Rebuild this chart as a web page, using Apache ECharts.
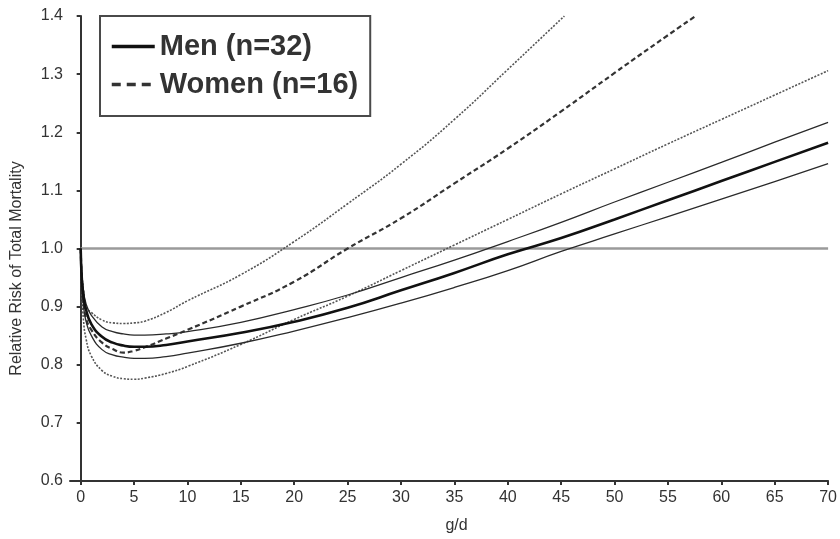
<!DOCTYPE html>
<html>
<head>
<meta charset="utf-8">
<script src="https://cdn.jsdelivr.net/npm/echarts@6/dist/echarts.min.js"></script>
<style>
html,body{margin:0;padding:0;background:#fff;}
#chart{width:840px;height:539px;}
</style>
</head>
<body>
<div id="chart"></div>
<script>
// ---- data ----
const xTicks = [0, 5, 10, 15, 20, 25, 30, 35, 40, 45, 50, 55, 60, 65, 70];

const menX     = [0, 0.1, 0.25, 0.5, 1, 2, 3, 4, 5, 6, 8, 10, 15, 20, 25, 30, 35, 40, 45, 50, 55, 60, 65, 70];
const menRR    = [1.0, 0.95, 0.92, 0.895, 0.87, 0.848, 0.838, 0.833, 0.831, 0.831, 0.834, 0.84, 0.855, 0.874, 0.898, 0.928, 0.958, 0.99, 1.018, 1.05, 1.083, 1.116, 1.149, 1.182];
const menUpper = [1.0, 0.96, 0.93, 0.905, 0.885, 0.865, 0.857, 0.853, 0.851, 0.851, 0.853, 0.857, 0.873, 0.895, 0.92, 0.95, 0.98, 1.012, 1.045, 1.08, 1.114, 1.148, 1.183, 1.217];
const menLower = [1.0, 0.94, 0.905, 0.875, 0.85, 0.826, 0.817, 0.813, 0.811, 0.811, 0.814, 0.82, 0.837, 0.858, 0.881, 0.906, 0.933, 0.962, 0.995, 1.025, 1.055, 1.085, 1.115, 1.146];

const womenX   = [0, 0.1, 0.25, 0.5, 1, 2, 3, 4, 5, 6, 8, 10, 15, 20, 25, 30, 35, 40, 45, 50, 55, 57.6];
const womenRR  = [1.0, 0.95, 0.91, 0.88, 0.86, 0.838, 0.827, 0.821, 0.824, 0.83, 0.845, 0.86, 0.9, 0.943, 1.0, 1.052, 1.112, 1.172, 1.236, 1.302, 1.367, 1.4];

const womenUpperX = [0, 0.1, 0.25, 0.5, 1, 2, 3, 4, 5, 6, 8, 10, 15, 20, 25, 30, 35, 40, 45.3];
const womenUpper  = [1.0, 0.96, 0.93, 0.9, 0.89, 0.877, 0.872, 0.871, 0.872, 0.875, 0.89, 0.91, 0.955, 1.012, 1.077, 1.145, 1.222, 1.308, 1.4];

const womenLowerX = [0, 0.1, 0.25, 0.5, 1, 2, 3, 4, 5, 6, 8, 10, 15, 20, 25, 30, 35, 40, 45, 50, 55, 60, 65, 70];
const womenLower  = [1.0, 0.93, 0.88, 0.845, 0.815, 0.79, 0.78, 0.776, 0.775, 0.777, 0.785, 0.797, 0.835, 0.878, 0.918, 0.962, 1.006, 1.05, 1.094, 1.137, 1.18, 1.222, 1.264, 1.306];

const refX = [0, 70];
const refY = [1.0, 1.0];

const menName = 'Men (n=32)';
const womenName = 'Women (n=16)';

function pairs(xs, ys) { return xs.map((x, i) => [x, ys[i]]); }

const FONT = '"Liberation Sans", Arial, sans-serif';

const chart = echarts.init(document.getElementById('chart'), null, {renderer: 'canvas'});
const lineBase = {type: 'line', showSymbol: false, symbol: 'none', smooth: 0.5, silent: true};

chart.setOption({
  animation: false,
  backgroundColor: '#fff',
  grid: {left: 70, right: 11, top: 16, bottom: 58, containLabel: false},
  legend: {
    show: true,
    left: 100, top: 16,
    orient: 'vertical',
    padding: [16, 12, 17, 10],
    itemGap: 9,
    itemWidth: 43,
    itemHeight: 28,
    borderColor: '#4a4a4a',
    borderWidth: 2,
    backgroundColor: '#fff',
    selectedMode: false,
    textStyle: {fontFamily: FONT, fontSize: 29, fontWeight: 'bold', color: '#333'},
    data: [
      {name: menName, itemStyle: {color: 'rgba(0,0,0,0)', borderWidth: 0}, lineStyle: {color: '#111', width: 3.5, type: 'solid'}},
      {name: womenName, itemStyle: {color: 'rgba(0,0,0,0)', borderWidth: 0}, lineStyle: {color: '#333', width: 3.5, type: [9, 6]}}
    ]
  },
  xAxis: {
    type: 'value', min: -1, max: 70,
    name: 'g/d', nameLocation: 'middle', nameGap: 37,
    nameTextStyle: {fontFamily: FONT, fontSize: 16, color: '#333', padding: [0, 0, 0, 15]},
    axisLine: {show: true, onZero: false, lineStyle: {color: '#333', width: 2}},
    axisTick: {show: true, length: 4, customValues: xTicks, lineStyle: {color: '#333', width: 2}},
    axisLabel: {customValues: xTicks, fontFamily: FONT, fontSize: 16, color: '#333', margin: 9},
    splitLine: {show: false}
  },
  yAxis: {
    type: 'value', min: 0.6, max: 1.4, interval: 0.1,
    name: 'Relative Risk of Total Mortality', nameLocation: 'middle', nameGap: 45,
    nameTextStyle: {fontFamily: FONT, fontSize: 16, color: '#333', padding: [0, 40, 0, 0]},
    axisLine: {show: true, lineStyle: {color: '#333', width: 2}},
    axisTick: {show: true, length: 4, lineStyle: {color: '#333', width: 2}},
    axisLabel: {fontFamily: FONT, fontSize: 16, color: '#333', margin: 7, formatter: v => v.toFixed(1)},
    splitLine: {show: false}
  },
  series: [
    Object.assign({}, lineBase, {name: 'ref', data: pairs(refX, refY), smooth: false, z: 1,
      lineStyle: {color: '#9a9a9a', width: 2.5}}),
    Object.assign({}, lineBase, {name: 'Women upper', data: pairs(womenUpperX, womenUpper), z: 2,
      lineStyle: {color: '#555', width: 1.6, type: [2, 1.5]}}),
    Object.assign({}, lineBase, {name: 'Women lower', data: pairs(womenLowerX, womenLower), z: 2,
      lineStyle: {color: '#555', width: 1.6, type: [2, 1.5]}}),
    Object.assign({}, lineBase, {name: womenName, data: pairs(womenX, womenRR), z: 3,
      itemStyle: {color: '#333'}, lineStyle: {color: '#333', width: 2.2, type: [5, 3]}}),
    Object.assign({}, lineBase, {name: 'Men upper', data: pairs(menX, menUpper), z: 3,
      lineStyle: {color: '#2a2a2a', width: 1.3}}),
    Object.assign({}, lineBase, {name: 'Men lower', data: pairs(menX, menLower), z: 3,
      lineStyle: {color: '#2a2a2a', width: 1.3}}),
    Object.assign({}, lineBase, {name: menName, data: pairs(menX, menRR), z: 4,
      itemStyle: {color: '#111'}, lineStyle: {color: '#111', width: 2.6}})
  ]
});
</script>
</body>
</html>
